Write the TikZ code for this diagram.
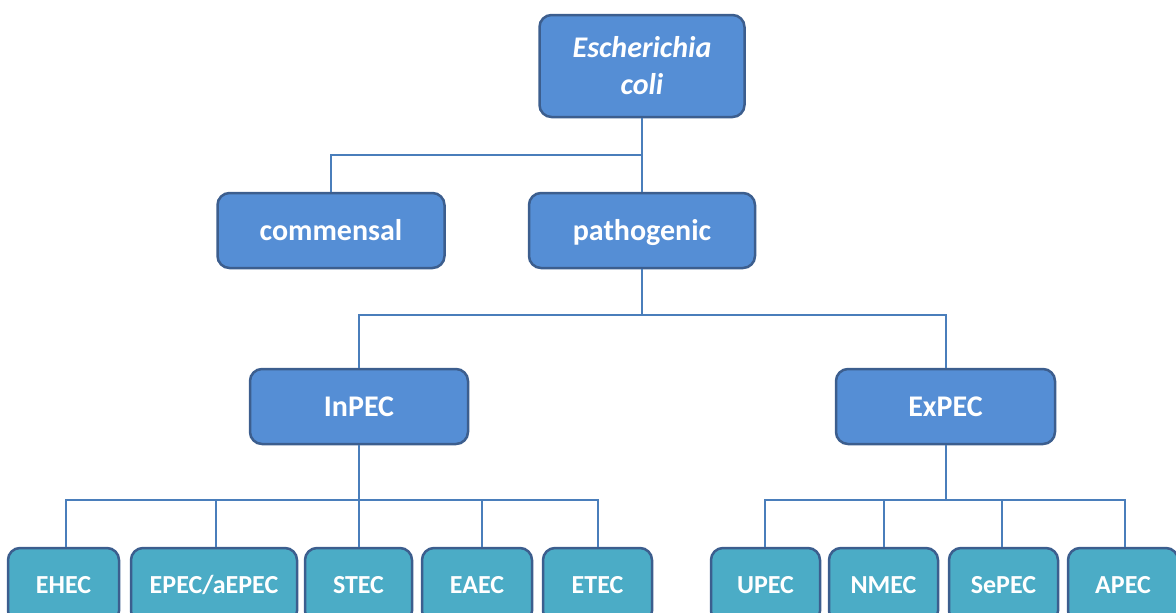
\documentclass[tikz,border=0pt]{standalone}
\usepackage{fontspec}
\setmainfont{Carlito}
\definecolor{boxblue}{HTML}{558ED5}
\definecolor{leafteal}{HTML}{4BACC6}
\definecolor{boxborder}{HTML}{3C5E8E}
\definecolor{linecol}{HTML}{4A7EBB}
\tikzset{
  topbox/.style={draw=boxborder, fill=boxblue, line width=2.5pt, rounded corners=12pt,
    text=white, font=\bfseries\fontsize{30}{37}\selectfont, align=center, inner sep=0pt},
  oneline/.style={topbox, minimum height=75pt, text height=26pt, text depth=7pt},
  leafbox/.style={topbox, fill=leafteal, minimum height=75pt, text height=22pt, text depth=6pt,
    font=\bfseries\fontsize{26}{31}\selectfont},
  conn/.style={draw=linecol, line width=2pt}
}
\begin{document}
\begin{tikzpicture}[x=1pt,y=-1pt]
\useasboundingbox (0,0) rectangle (1176,613);
% nodes
\node[topbox, minimum width=205pt, minimum height=102pt] (ecoli) at (642,66) {\textit{Escherichia}\\\textit{coli}};
\node[oneline, minimum width=227pt] (comm) at (331,230.5) {commensal};
\node[oneline, minimum width=226pt] (path) at (642,230.5) {pathogenic};
\node[oneline, minimum width=218pt] (inpec) at (359,406.5) {InPEC};
\node[oneline, minimum width=219pt] (expec) at (945.5,406.5) {ExPEC};
\node[leafbox, minimum width=111pt] (ehec) at (63.5,585.5) {EHEC};
\node[leafbox, minimum width=166pt] (epec) at (214,585.5) {EPEC/aEPEC};
\node[leafbox, minimum width=107pt] (stec) at (358.5,585.5) {STEC};
\node[leafbox, minimum width=110pt] (eaec) at (477,585.5) {EAEC};
\node[leafbox, minimum width=109pt] (etec) at (597.5,585.5) {ETEC};
\node[leafbox, minimum width=109pt] (upec) at (765.5,585.5) {UPEC};
\node[leafbox, minimum width=109pt] (nmec) at (883.5,585.5) {NMEC};
\node[leafbox, minimum width=109pt] (sepec) at (1003.5,585.5) {SePEC};
\node[leafbox, minimum width=110pt] (apec) at (1123,585.5) {APEC};
% junctions
\coordinate (j1) at (642,155);
\coordinate (j2) at (642,315);
\coordinate (j3) at (359,500);
\coordinate (j4) at (945.5,500);
% connectors
\draw[conn] (ecoli.south) -- (path.north);
\draw[conn] (comm.north) |- (j1);
\draw[conn] (path.south) -- (j2);
\draw[conn] (inpec.north) |- (j2) -| (expec.north);
\draw[conn] (inpec.south) -- (stec.north -| inpec.south);
\draw[conn] ([xshift=2pt]ehec.north) |- (j3) -| (etec.north);
\draw[conn] ([xshift=2pt]epec.north) -- ([xshift=2pt]epec.north |- j3);
\draw[conn] ([xshift=5pt]eaec.north) -- ([xshift=5pt]eaec.north |- j3);
\draw[conn] (expec.south) -- (j4);
\draw[conn] ([xshift=-1pt]upec.north) |- (j4) -| ([xshift=2pt]apec.north);
\draw[conn] (nmec.north) -- (nmec.north |- j4);
\draw[conn] ([xshift=-2pt]sepec.north) -- ([xshift=-2pt]sepec.north |- j4);
\end{tikzpicture}
\end{document}
